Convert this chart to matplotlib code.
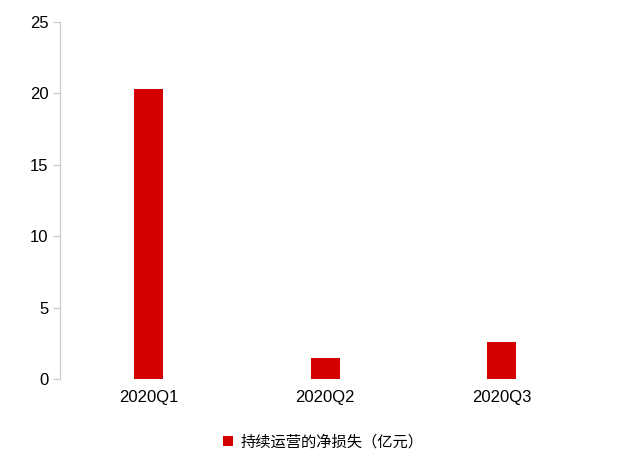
import matplotlib.pyplot as plt
import numpy as np

plt.rcParams['font.family'] = ['Liberation Sans', 'Noto Sans CJK SC', 'DejaVu Sans']

# data
quarters = ['2020Q1', '2020Q2', '2020Q3']
net_loss = [20.3, 1.5, 2.6]
series_name = '持续运营的净损失（亿元）'

fig = plt.figure(figsize=(6.4, 4.65), dpi=100)
ax = fig.add_axes([0.094, 0.185, 0.828, 0.768])

x = np.arange(len(quarters))
ax.bar(x, net_loss, width=0.165, color='#d40000', label=series_name)

ax.set_xlim(-0.5, len(quarters) - 0.5)
ax.set_ylim(0, 25)
ax.set_yticks([0, 5, 10, 15, 20, 25])
ax.set_xticks(x)
ax.set_xticklabels(quarters)

for side in ['top', 'right', 'bottom']:
    ax.spines[side].set_visible(False)
ax.spines['left'].set_color('#c8c8c8')
ax.tick_params(axis='y', colors='#c8c8c8', labelcolor='black', labelsize=12, length=5)
ax.tick_params(axis='x', length=0, labelsize=12, pad=8)

leg = fig.legend(loc='center', bbox_to_anchor=(0.505, 0.05), frameon=False,
                 handlelength=0.7, handleheight=0.7, handletextpad=0.5,
                 prop={'family': ['Noto Sans CJK SC'], 'size': 11})

fig.savefig('out.png', dpi=100)
